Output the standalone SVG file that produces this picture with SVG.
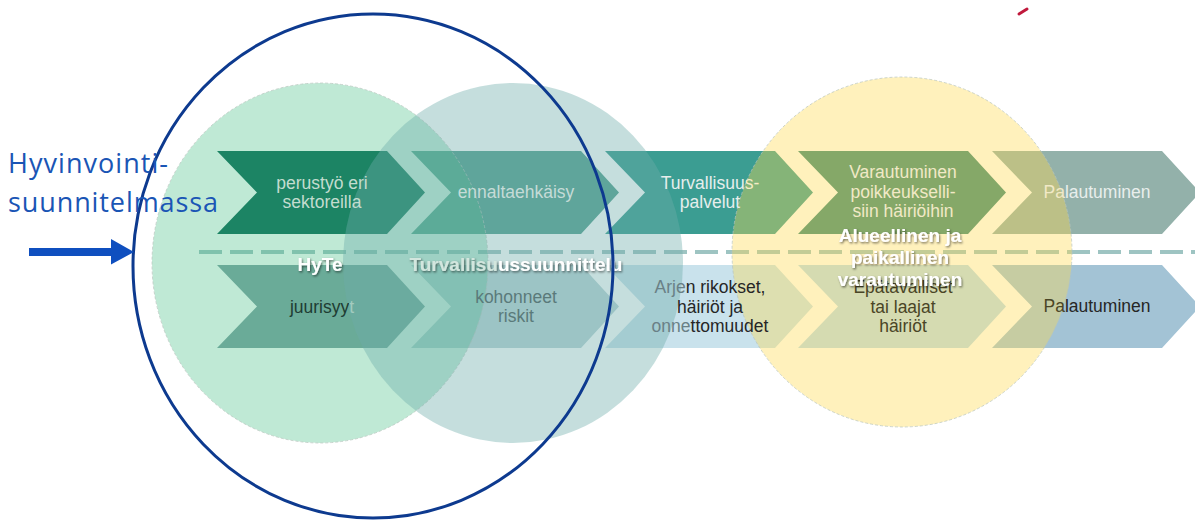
<svg xmlns="http://www.w3.org/2000/svg" width="1195" height="520" viewBox="0 0 1195 520">
<style>
.t{font-family:"Liberation Sans",Arial,sans-serif;font-size:17.5px;text-anchor:middle}
.b{font-family:"Liberation Sans",Arial,sans-serif;font-size:19px;font-weight:bold;text-anchor:middle;fill:#ffffff}
.h{font-family:"Open Sans","Noto Sans",sans-serif;font-size:27px;fill:#1a55b5}
.circ{stroke:#b8c4bd;stroke-width:1;stroke-dasharray:3 2;stroke-opacity:.7}
</style>
<defs>
<filter id="sh" x="-10%" y="-30%" width="120%" height="160%">
<feDropShadow dx="1" dy="1.3" stdDeviation="0.8" flood-color="#000" flood-opacity="0.55"/>
</filter>
</defs>
<rect width="1195" height="520" fill="#ffffff"/>
<line x1="199" y1="252" x2="1195" y2="252" stroke="#9ec4c2" stroke-width="4" stroke-dasharray="23 8"/>
<g id="top-row">
<g id="n-perustyo"><path d="M217,151 H387 L425,192.5 L387,234 H217 L257,192.5 Z" fill="#066452"/></g>
<g id="n-ennaltaehkaisy"><path d="M411,151 H581 L619,192.5 L581,234 H411 L451,192.5 Z" fill="#55a091"/></g>
<g id="n-turvallisuuspalvelut"><path d="M605,151 H775 L813,192.5 L775,234 H605 L645,192.5 Z" fill="#3b9d92"/></g>
<g id="n-varautuminen"><path d="M798,151 H968 L1006,192.5 L968,234 H798 L838,192.5 Z" fill="#3a8a78"/></g>
<g id="n-palautuminen-top"><path d="M992,151 H1162 L1200,192.5 L1162,234 H992 L1032,192.5 Z" fill="#93b1aa"/></g>
</g>
<g id="bottom-row">
<g id="n-juurisyyt"><path d="M217,265 H387 L425,306.5 L387,348 H217 L257,306.5 Z" fill="#7da0a2"/></g>
<g id="n-kohonneet"><path d="M411,265 H581 L619,306.5 L581,348 H411 L451,306.5 Z" fill="#bbd4d7"/></g>
<g id="n-arjen"><path d="M605,265 H775 L813,306.5 L775,348 H605 L645,306.5 Z" fill="#c9e2ec"/></g>
<g id="n-epatavalliset"><path d="M798,265 H968 L1006,306.5 L968,348 H798 L838,306.5 Z" fill="#bcdcee"/></g>
<g id="n-palautuminen-bottom"><path d="M992,265 H1162 L1200,306.5 L1162,348 H992 L1032,306.5 Z" fill="#a3c3d5"/></g>
</g>
<g id="circles">
<ellipse id="c-hyte" cx="320" cy="263" rx="168" ry="180" fill="#47bf86" fill-opacity=".35" class="circ"/>
<ellipse id="c-turva" cx="513" cy="263" rx="170" ry="180" fill="#6eacaa" fill-opacity=".4"/>
<ellipse id="c-alue" cx="902" cy="252" rx="170" ry="175" fill="#ffd950" fill-opacity=".38" class="circ"/>
</g>
<g id="labels">
<text class="t" fill="#c3dccf"><tspan x="322" y="189">perustyö eri</tspan><tspan x="322" y="208">sektoreilla</tspan></text>
<text class="t" fill="#c5dbd7" x="516" y="198">ennaltaehkäisy</text>
<text class="t" fill="#e6eeec"><tspan x="710" y="189">Turvallisuu<tspan fill="#f4ecc6">s-</tspan></tspan><tspan x="710" y="208">palvelut</tspan></text>
<text class="t" fill="#f1e9c6"><tspan x="903" y="178">Varautuminen</tspan><tspan x="903" y="197.5">poikkeukselli-</tspan><tspan x="903" y="217">siin häiriöihin</tspan></text>
<text class="t" fill="#e8eeec" x="1097" y="198"><tspan fill="#f1e9c6">Pa</tspan>lautuminen</text>
<text class="t" fill="#1e3d33" x="322" y="313">juurisyy<tspan fill="#a3cbbf">t</tspan></text>
<text class="t" fill="#5a7a7a"><tspan x="516" y="303">kohonneet</tspan><tspan x="516" y="322">riskit</tspan></text>
<text class="t" fill="#262626"><tspan x="710" y="293"><tspan fill="#6a8086">Arje</tspan>n rikokset,</tspan><tspan x="710" y="312.5">häiriöt ja</tspan><tspan x="710" y="332"><tspan fill="#6a8086">onne</tspan>ttomuudet</tspan></text>
<text class="t" fill="#4a4526"><tspan x="903" y="293">Epätavalliset</tspan><tspan x="903" y="312.5">tai laajat</tspan><tspan x="903" y="332">häiriöt</tspan></text>
<text class="t" fill="#262626" x="1097" y="312"><tspan fill="#4a4526">Pa</tspan>lautuminen</text>
</g>
<g id="group-titles" filter="url(#sh)">
<text class="b" x="320" y="271">HyTe</text>
<text class="b" x="516" y="271"><tspan fill="#d3e6de">Turvallisu</tspan>ussuunnittelu</text>
<text class="b"><tspan x="900" y="242">Alueellinen ja</tspan><tspan x="900" y="264">paikallinen</tspan><tspan x="900" y="286">varautuminen</tspan></text>
</g>
<g id="n-hyvinvointi">
<ellipse cx="373" cy="266" rx="240" ry="252" fill="none" stroke="#0d3a8f" stroke-width="3"/>
<text class="h"><tspan x="8" y="173" textLength="160" lengthAdjust="spacing">Hyvinvointi-</tspan><tspan x="8" y="212" textLength="210" lengthAdjust="spacing">suunnitelmassa</tspan></text>
</g>
<g id="connectors">
<path d="M29,248 H111 V239 L134,252 L111,264.5 V256 H29 Z" fill="#0f4fbf"/>
</g>
<line x1="1019" y1="14" x2="1027" y2="9" stroke="#c0193c" stroke-width="3" stroke-linecap="round"/>
</svg>
